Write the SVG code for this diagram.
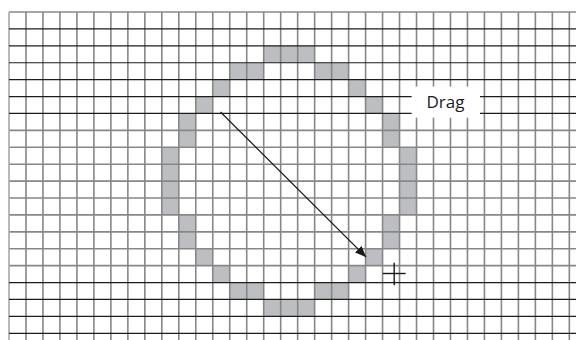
<svg xmlns="http://www.w3.org/2000/svg" width="576" height="340" viewBox="0 0 576 340">
<defs>
<style>
.cell{fill:#bdbec1}
.v{stroke:#878787;stroke-width:1.6}
.hb{stroke:#1c1c1c;stroke-width:1.2}
.hg{stroke:#878787;stroke-width:1.6}
.lbl{font-family:"Open Sans","Noto Sans",sans-serif;font-size:17px;fill:#1a1a1a}
</style>
<marker id="ah" markerUnits="userSpaceOnUse" markerWidth="12" markerHeight="10" refX="11" refY="4.7" orient="auto">
<path d="M0,0 L11,4.7 L0,9.4 z" fill="#1a1a1a"/>
</marker>
</defs>
<rect width="576" height="340" fill="#ffffff"/>
<g id="pixels">
<rect class="cell" x="263.7" y="45.82" width="50.94" height="16.91"/>
<rect class="cell" x="229.74" y="62.73" width="33.96" height="16.91"/>
<rect class="cell" x="314.64" y="62.73" width="33.96" height="16.91"/>
<rect class="cell" x="212.76" y="79.64" width="16.98" height="16.91"/>
<rect class="cell" x="348.6" y="79.64" width="16.98" height="16.91"/>
<rect class="cell" x="195.78" y="96.55" width="16.98" height="16.91"/>
<rect class="cell" x="365.58" y="96.55" width="16.98" height="16.91"/>
<rect class="cell" x="178.8" y="113.46" width="16.98" height="33.82"/>
<rect class="cell" x="382.56" y="113.46" width="16.98" height="33.82"/>
<rect class="cell" x="161.82" y="147.28" width="16.98" height="67.64"/>
<rect class="cell" x="399.54" y="147.28" width="16.98" height="67.64"/>
<rect class="cell" x="178.8" y="214.92" width="16.98" height="33.82"/>
<rect class="cell" x="382.56" y="214.92" width="16.98" height="33.82"/>
<rect class="cell" x="195.78" y="248.74" width="16.98" height="16.91"/>
<rect class="cell" x="365.58" y="248.74" width="16.98" height="16.91"/>
<rect class="cell" x="212.76" y="265.65" width="16.98" height="16.91"/>
<rect class="cell" x="348.6" y="265.65" width="16.98" height="16.91"/>
<rect class="cell" x="229.74" y="282.56" width="33.96" height="16.91"/>
<rect class="cell" x="314.64" y="282.56" width="33.96" height="16.91"/>
<rect class="cell" x="263.7" y="299.47" width="50.94" height="16.91"/>
</g>
<g id="grid">
<g class="hg">
<line x1="9" y1="12" x2="576" y2="12"/>
<line x1="9" y1="130.37" x2="576" y2="130.37"/>
<line x1="9" y1="147.28" x2="576" y2="147.28"/>
<line x1="9" y1="164.19" x2="576" y2="164.19"/>
<line x1="9" y1="181.1" x2="576" y2="181.1"/>
<line x1="9" y1="198.01" x2="576" y2="198.01"/>
<line x1="9" y1="214.92" x2="576" y2="214.92"/>
<line x1="9" y1="231.83" x2="576" y2="231.83"/>
<line x1="9" y1="248.74" x2="576" y2="248.74"/>
<line x1="9" y1="265.65" x2="576" y2="265.65"/>
</g>
<g class="v">
<line x1="9" y1="12" x2="9" y2="340" stroke="#a8a8a8"/>
<line x1="25.98" y1="12" x2="25.98" y2="340"/>
<line x1="42.96" y1="12" x2="42.96" y2="340"/>
<line x1="59.94" y1="12" x2="59.94" y2="340"/>
<line x1="76.92" y1="12" x2="76.92" y2="340"/>
<line x1="93.9" y1="12" x2="93.9" y2="340"/>
<line x1="110.88" y1="12" x2="110.88" y2="340"/>
<line x1="127.86" y1="12" x2="127.86" y2="340"/>
<line x1="144.84" y1="12" x2="144.84" y2="340"/>
<line x1="161.82" y1="12" x2="161.82" y2="340"/>
<line x1="178.8" y1="12" x2="178.8" y2="340"/>
<line x1="195.78" y1="12" x2="195.78" y2="340"/>
<line x1="212.76" y1="12" x2="212.76" y2="340"/>
<line x1="229.74" y1="12" x2="229.74" y2="340"/>
<line x1="246.72" y1="12" x2="246.72" y2="340"/>
<line x1="263.7" y1="12" x2="263.7" y2="340"/>
<line x1="280.68" y1="12" x2="280.68" y2="340"/>
<line x1="297.66" y1="12" x2="297.66" y2="340"/>
<line x1="314.64" y1="12" x2="314.64" y2="340"/>
<line x1="331.62" y1="12" x2="331.62" y2="340"/>
<line x1="348.6" y1="12" x2="348.6" y2="340"/>
<line x1="365.58" y1="12" x2="365.58" y2="340"/>
<line x1="382.56" y1="12" x2="382.56" y2="340"/>
<line x1="399.54" y1="12" x2="399.54" y2="340"/>
<line x1="416.52" y1="12" x2="416.52" y2="340"/>
<line x1="433.5" y1="12" x2="433.5" y2="340"/>
<line x1="450.48" y1="12" x2="450.48" y2="340"/>
<line x1="467.46" y1="12" x2="467.46" y2="340"/>
<line x1="484.44" y1="12" x2="484.44" y2="340"/>
<line x1="501.42" y1="12" x2="501.42" y2="340"/>
<line x1="518.4" y1="12" x2="518.4" y2="340"/>
<line x1="535.38" y1="12" x2="535.38" y2="340"/>
<line x1="552.36" y1="12" x2="552.36" y2="340"/>
<line x1="569.34" y1="12" x2="569.34" y2="340"/>
</g>
<g class="hb">
<line x1="9" y1="28.91" x2="576" y2="28.91"/>
<line x1="9" y1="45.82" x2="576" y2="45.82"/>
<line x1="9" y1="62.73" x2="576" y2="62.73"/>
<line x1="9" y1="79.64" x2="576" y2="79.64"/>
<line x1="9" y1="96.55" x2="576" y2="96.55"/>
<line x1="9" y1="113.46" x2="576" y2="113.46"/>
<line x1="9" y1="282.56" x2="576" y2="282.56"/>
<line x1="9" y1="299.47" x2="576" y2="299.47"/>
<line x1="9" y1="316.38" x2="576" y2="316.38"/>
<line x1="9" y1="333.29" x2="576" y2="333.29"/>
</g>
</g>
<g id="drag-label">
<rect x="411.6" y="86.6" width="68.4" height="31.1" fill="#ffffff"/>
<text class="lbl" x="445.5" y="107.5" text-anchor="middle">Drag</text>
</g>
<g id="connectors">
<line x1="220.5" y1="112" x2="366" y2="257" stroke="#1a1a1a" stroke-width="1.2" marker-end="url(#ah)"/>
</g>
<g id="cursor" stroke="#1a1a1a" stroke-width="1.4">
<line x1="382.7" y1="273.5" x2="405.7" y2="273.5"/>
<line x1="394.2" y1="262.7" x2="394.2" y2="285.3"/>
</g>
</svg>
